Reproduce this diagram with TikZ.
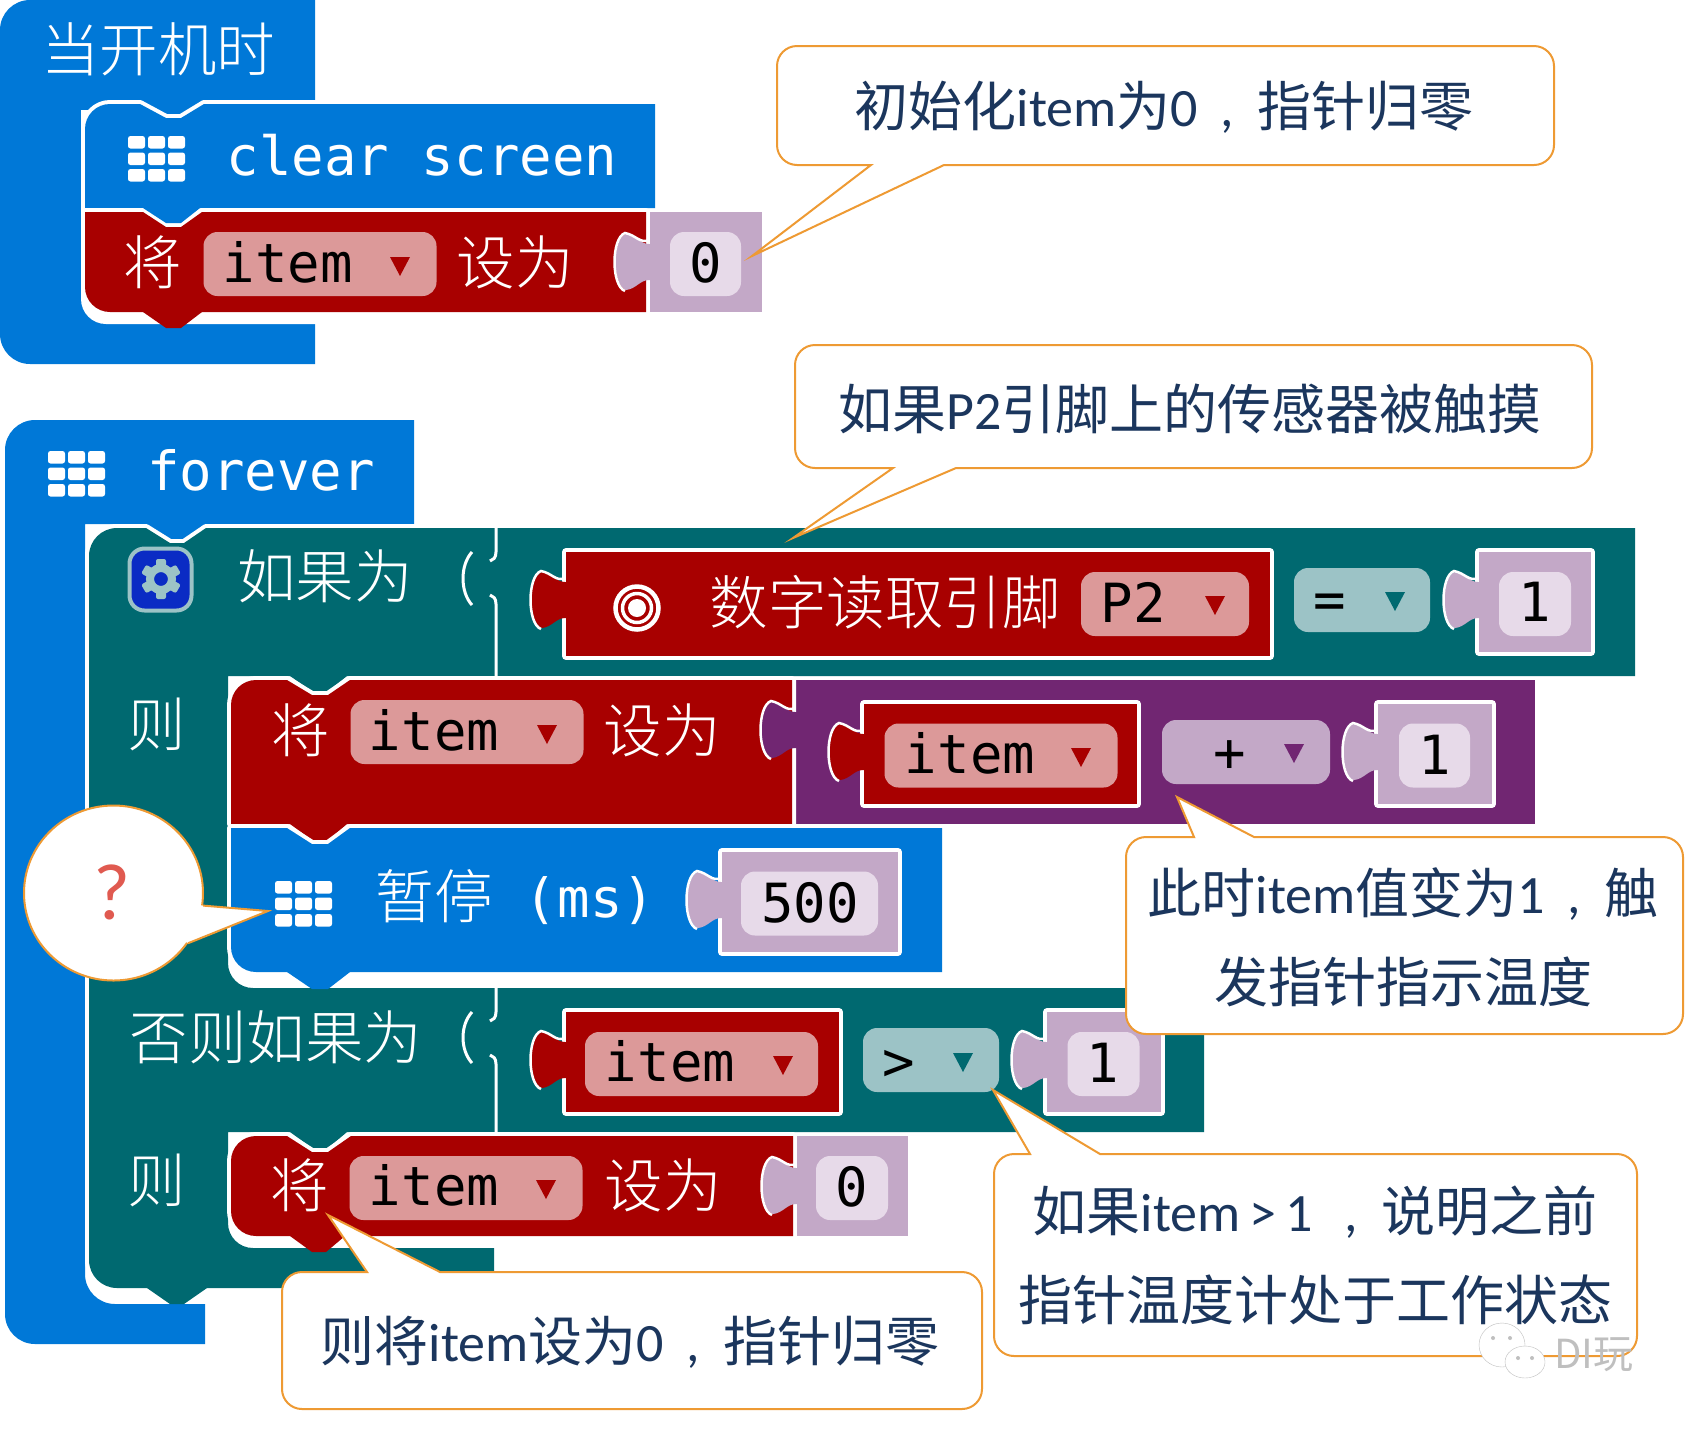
\documentclass[tikz,border=0pt]{standalone}
\usepackage{fontspec}
\setmainfont{Carlito}
\setmonofont{DejaVu Sans Mono}
\newfontfamily\cjk{Noto Sans CJK SC}
\newfontfamily\cjkthin[UprightFont=* Light]{Noto Sans CJK SC}
\usetikzlibrary{shapes.geometric}
\definecolor{loopblue}{HTML}{0078D7}
\definecolor{varred}{HTML}{A80000}
\definecolor{logicteal}{HTML}{006970}
\definecolor{mathpurple}{HTML}{712672}
\definecolor{numpurple}{HTML}{C3A8C7}
\definecolor{numfield}{HTML}{E7DAE9}
\definecolor{redfield}{HTML}{DC9999}
\definecolor{tealfield}{HTML}{9CC3C6}
\definecolor{gearblue}{HTML}{0A2BC4}
\definecolor{askred}{HTML}{E05A50}
\definecolor{calloutline}{HTML}{EE9A33}
\definecolor{callouttext}{HTML}{1B365D}
\tikzset{
  rimmed/.style={preaction={draw=white,line width=8pt,line join=round}},
  zhtxt/.style={text=white,inner sep=0pt,font=\cjkthin\fontsize{58.5}{58.5}\selectfont},
  monotxt/.style={inner sep=0pt,font=\ttfamily\fontsize{54}{54}\selectfont},
  ffield/.style={rounded corners=14pt,inner sep=0pt,minimum height=64pt},
  itemfield/.style={ffield,fill=redfield,minimum width=233pt},
  callout/.style={draw=calloutline,line width=2pt,fill=white},
  notetxt/.style={text=callouttext,inner sep=0pt,font=\fontsize{54}{54}\selectfont},
}
\newcommand{\zh}[1]{{\cjk #1}}
\newcommand{\zhcomma}{\makebox[1.1em]{,}}
\newcommand{\ddmark}[3]{\fill[#3] (#1-10,#2-9) -- (#1+10,#2-9) -- (#1,#2+10) -- cycle;}
\newcommand{\gridicon}[2]{
  \foreach \i in {0,1,2} \foreach \j in {0,1,2}
    \fill[white,rounded corners=2.5pt] (#1+\i*20,#2+\j*16.5) rectangle ++(17,12.5);
}
\newcommand{\puzzletab}[3]{
  \begin{scope}[shift={(#1,#2)}]
    \fill[#3] (4,-18) -- (-1,-18) .. controls (-10,-18) and (-14,-27) .. (-24,-28) .. controls (-38,-24) and (-38,24) .. (-24,28) .. controls (-14,27) and (-10,18) .. (-1,18) -- (4,18) -- cycle;
    \draw[white,line width=2.5pt] (-1,-22) .. controls (-10,-18) and (-14,-27) .. (-25,-29) .. controls (-39,-24) and (-39,24) .. (-25,29);
  \end{scope}
}
\begin{document}
\begin{tikzpicture}[x=1pt,y=-1pt]
  \useasboundingbox (0,0) rectangle (1691,1428);

  \fill[loopblue] (315,100) -- (315,0) [rounded corners=30pt] -- (0,0) -- (0,364) [sharp corners] -- (315,364) -- cycle;
  \fill[white] (81,110) [rounded corners=25pt] -- (81,324) [sharp corners] -- (316,324) -- (316,110) -- cycle;
  \fill[loopblue] (140,100) -- (166,116) -- (181,116) -- (204,100) -- cycle;
  \fill[loopblue,rimmed] (655,104) -- (204,104) -- (181,118) -- (166,118) -- (140,104) [rounded corners=25pt] -- (85,104) [sharp corners] -- (85,208) -- (655,208) -- cycle;
  \fill[varred,rimmed] (646,212) -- (202,212) -- (181,227) -- (166,227) -- (143,212) -- (85,212) [rounded corners=25pt] -- (85,312) [sharp corners] -- (646,312) -- cycle;
  \fill[loopblue] (143,208) -- (166,223) -- (181,223) -- (200,208) -- cycle;
  \fill[varred] (143,312) -- (166,328) -- (181,328) -- (202,312) -- cycle;
  \fill[numpurple] (650,212) rectangle (762,312);
  \puzzletab{650}{262}{numpurple}
  \node[ffield,fill=numfield,minimum width=71pt] (zeroA) at (705.5,264) {};
  \node[monotxt] (zeroAtxt) at (706,263) {0};
  \node[itemfield] (itemA) at (320,264) {};
  \node[monotxt] (itemAtxt) at (288,262) {item};
  \ddmark{400}{266}{varred}
  \node[zhtxt] (startlbl) at (158,49) {当开机时};
  \gridicon{128}{136}
  \node[monotxt,text=white] (clearlbl) at (422,155) {clear screen};
  \node[zhtxt] (setA) at (153,262) {将};
  \node[zhtxt] (toA) at (515,262) {设为};

  \fill[loopblue] (414,524) -- (414,420) [rounded corners=30pt] -- (5,420) -- (5,1344) [sharp corners] -- (205,1344) -- (205,1304) [rounded corners=30pt] -- (85,1304) [sharp corners] -- (85,524) -- cycle;
  \fill[loopblue] (146,524) -- (170,539) -- (184,539) -- (206,524) -- cycle;
  \gridicon{48}{451}
  \node[monotxt,text=white] (foreverlbl) at (261,470) {forever};

  \fill[logicteal,rimmed] (1635,528) -- (1635,676) -- (228,676) [rounded corners=25pt] -- (228,988) [sharp corners] -- (1204,988) -- (1204,1132) -- (228,1132) [rounded corners=25pt] -- (228,1248) [sharp corners] -- (494,1248) -- (494,1288) [rounded corners=28pt] -- (89,1288) -- (89,528) [sharp corners] -- (146,528) -- (170,543) -- (184,543) -- (206,528) -- cycle;
  \fill[logicteal] (147,1288) -- (170,1304) -- (184,1304) -- (207,1288) -- cycle;

  \draw[white,line width=3pt] (496,528) -- (496,552) .. controls (496,558) and (493,560) .. (490,561);
  \draw[white,line width=3pt] (490,595) .. controls (493,596) and (496,598) .. (496,604) -- (496,676);
  \draw[white,line width=3pt] (472,552) .. controls (460,565) and (460,592) .. (472,605);
  \draw[white,line width=3pt] (496,988) -- (496,1012) .. controls (496,1018) and (493,1020) .. (490,1021);
  \draw[white,line width=3pt] (490,1055) .. controls (493,1056) and (496,1058) .. (496,1064) -- (496,1132);
  \draw[white,line width=3pt] (472,1012) .. controls (460,1025) and (460,1050) .. (472,1063);

  \node[draw=tealfield,line width=4pt,fill=gearblue,rounded corners=15pt,minimum width=62pt,minimum height=62pt,inner sep=0pt] (gearbox) at (160.5,579.5) {};
  \foreach \a in {0,60,...,300}
    \fill[tealfield,rotate around={\a:(161,579)},rounded corners=2pt] (156,559) rectangle (166,570);
  \node[circle,draw=tealfield,line width=8pt,fill=gearblue,minimum size=22pt,inner sep=0pt] (gear) at (161,579) {};
  \node[zhtxt] (iflbl) at (325,576) {如果为};
  \node[zhtxt] (thenA) at (157,724) {则};
  \node[zhtxt] (eliflbl) at (276,1037) {否则如果为};
  \node[zhtxt] (thenB) at (157,1180) {则};

  \fill[varred,rimmed] (566,552) rectangle (1270,656);
  \puzzletab{566}{600}{varred}
  \draw[white,line width=4.5pt] (637,608) circle (21.5);
  \draw[white,line width=3.5pt] (637,608) circle (14.5);
  \fill[white] (637,608) circle (9);
  \node[zhtxt] (readlbl) at (885,602) {数字读取引脚};
  \node[ffield,fill=redfield,minimum width=168pt] (pinfield) at (1165,604) {};
  \node[monotxt] (pintxt) at (1133,602) {P2};
  \ddmark{1215}{605}{varred}
  \node[ffield,fill=tealfield,minimum width=136pt] (eqfield) at (1362,600) {};
  \node[monotxt] (eqtxt) at (1330,606) {=};
  \ddmark{1395}{601}{logicteal}
  \fill[numpurple,rimmed] (1479,552) rectangle (1591,652);
  \puzzletab{1479}{600}{numpurple}
  \node[ffield,fill=numfield,minimum width=72pt] (oneA) at (1535,604) {};
  \node[monotxt] (oneAtxt) at (1535,602) {1};

  \fill[mathpurple] (796,680) rectangle (1535,824);
  \fill[logicteal] (290,676) -- (312,691) -- (328,691) -- (347,676) -- cycle;
  \fill[varred,rimmed] (792,680) -- (350,680) -- (328,695) -- (312,695) -- (287,680) [rounded corners=25pt] -- (231,680) [sharp corners] -- (231,824) -- (792,824) -- cycle;
  \puzzletab{796}{730}{mathpurple}
  \node[zhtxt] (setB) at (301,730) {将};
  \node[itemfield] (itemB) at (467,732) {};
  \node[monotxt] (itemBtxt) at (434,730) {item};
  \ddmark{547}{734}{varred}
  \node[zhtxt] (toB) at (662,730) {设为};
  \fill[varred,rimmed] (864,704) rectangle (1137,804);
  \puzzletab{864}{752}{varred}
  \node[itemfield] (itemC) at (1001,755.5) {};
  \node[monotxt] (itemCtxt) at (970,753) {item};
  \ddmark{1081}{757}{varred}
  \node[ffield,fill=numpurple,minimum width=168pt] (plusfield) at (1246,752) {};
  \node[monotxt] (plustxt) at (1230,756) {+};
  \ddmark{1294}{753}{mathpurple}
  \fill[numpurple,rimmed] (1378,704) rectangle (1492,804);
  \puzzletab{1378}{752}{numpurple}
  \node[ffield,fill=numfield,minimum width=71pt] (oneB) at (1434.5,755.5) {};
  \node[monotxt] (oneBtxt) at (1435,755) {1};

  \fill[varred] (290,824) -- (312,840) -- (328,840) -- (347,824) -- cycle;
  \fill[loopblue,rimmed] (942,828) -- (350,828) -- (328,844) -- (312,844) -- (287,828) -- (231,828) [rounded corners=25pt] -- (231,972) [sharp corners] -- (942,972) -- cycle;
  \fill[loopblue] (287,972) -- (312,989) -- (328,989) -- (350,972) -- cycle;
  \gridicon{275}{881}
  \node[zhtxt] (pauselbl) at (434,896) {暂停};
  \node[monotxt,text=white] (pausems) at (590,901) {(ms)};
  \fill[numpurple,rimmed] (722,852) rectangle (898,952);
  \puzzletab{722}{900}{numpurple}
  \node[ffield,fill=numfield,minimum width=137pt] (msfield) at (809.5,903.5) {};
  \node[monotxt] (mstxt) at (810,903) {500};

  \fill[varred,rimmed] (566,1012) rectangle (839,1112);
  \puzzletab{566}{1060}{varred}
  \node[itemfield] (itemD) at (701.5,1064) {};
  \node[monotxt] (itemDtxt) at (670,1061) {item};
  \ddmark{783}{1065}{varred}
  \node[ffield,fill=tealfield,minimum width=136pt] (gtfield) at (931,1060) {};
  \node[monotxt] (gttxt) at (899,1065) {>};
  \ddmark{963}{1062}{logicteal}
  \fill[numpurple,rimmed] (1047,1012) rectangle (1161,1112);
  \puzzletab{1047}{1060}{numpurple}
  \node[ffield,fill=numfield,minimum width=72pt] (oneC) at (1103.5,1064) {};
  \node[monotxt] (oneCtxt) at (1103,1063) {1};

  \fill[logicteal] (290,1132) -- (312,1148) -- (328,1148) -- (347,1132) -- cycle;
  \fill[varred,rimmed] (793,1136) -- (351,1136) -- (328,1152) -- (312,1152) -- (287,1136) [rounded corners=25pt] -- (231,1136) -- (231,1236) [sharp corners] -- (793,1236) -- cycle;
  \fill[varred] (290,1236) -- (312,1252) -- (326,1252) -- (345,1236) -- cycle;
  \fill[numpurple] (797,1136) rectangle (908,1236);
  \puzzletab{797}{1186}{numpurple}
  \node[ffield,fill=numfield,minimum width=72pt] (zeroB) at (852,1188) {};
  \node[monotxt] (zeroBtxt) at (852,1187) {0};
  \node[zhtxt] (setC) at (300,1185) {将};
  \node[itemfield] (itemE) at (466,1188) {};
  \node[monotxt] (itemEtxt) at (434,1185) {item};
  \ddmark{546}{1189}{varred}
  \node[zhtxt] (toC) at (663,1185) {设为};

  \draw[callout] (871,165) -- (752,256) -- (944,165) [rounded corners=20pt] -- (1554,165) -- (1554,46) -- (777,46) -- (777,165) [sharp corners] -- cycle;
  \node[notetxt] (noteinit) at (1164,107) {\zh{初始化}item\zh{为}0\zhcomma\zh{指针归零}};

  \draw[callout] (893,468) -- (793,538) -- (956,468) [rounded corners=20pt] -- (1592,468) -- (1592,345) -- (795,345) -- (795,468) [sharp corners] -- cycle;
  \node[notetxt] (notepin) at (1190,409) {\zh{如果}P2\zh{引脚上的传感器被触摸}};

  \draw[callout] (1194,837) -- (1177,797) -- (1254,837) [rounded corners=20pt] -- (1683,837) -- (1683,1034) -- (1126,1034) -- (1126,837) [sharp corners] -- cycle;
  \node[notetxt] (notetouchA) at (1403,894) {\zh{此时}item\zh{值变为}1\zhcomma\zh{触}};
  \node[notetxt] (notetouchB) at (1403,982) {\zh{发指针指示温度}};

  \draw[callout] (1030,1154) -- (993,1090) -- (1100,1154) [rounded corners=20pt] -- (1637,1154) -- (1637,1356) -- (994,1356) -- (994,1154) [sharp corners] -- cycle;
  \node[notetxt] (noteoverA) at (1315,1212) {\zh{如果}item\,>\,1\,\zhcomma\zh{说明之前}};
  \node[notetxt] (noteoverB) at (1315,1300) {\zh{指针温度计处于工作状态}};

  \draw[callout] (367,1272) -- (328,1215) -- (440,1272) [rounded corners=20pt] -- (982,1272) -- (982,1409) -- (282,1409) -- (282,1272) [sharp corners] -- cycle;
  \node[notetxt] (notereset) at (630,1342) {\zh{则将}item\zh{设为}0\zhcomma\zh{指针归零}};

  \node[ellipse,draw=calloutline,line width=2pt,fill=white,minimum width=179pt,minimum height=175pt,inner sep=0pt] (ask) at (113.5,893) {};
  \coordinate (asktip) at (268,911);
  \fill[white] (ask.-8) -- (asktip) -- (ask.-34) -- (ask.center) -- cycle;
  \draw[calloutline,line width=2pt] (ask.-8) -- (asktip) -- (ask.-34);
  \node[inner sep=0pt,text=askred,font=\fontsize{80}{80}\selectfont] (askmark) at (112,892) {?};

  \draw[black!25,fill=white] (1502,1345) ellipse (23 and 22);
  \draw[black!25,fill=white] (1525,1362) ellipse (20 and 16);
  \fill[black!25] (1493,1338) circle (2) (1510,1338) circle (2) (1518,1358) circle (2) (1532,1358) circle (2);
  \node[inner sep=0pt,text=black!25,font=\cjk\fontsize{40}{40}\selectfont] (watermark) at (1594,1355) {DI玩};
\end{tikzpicture}
\end{document}
